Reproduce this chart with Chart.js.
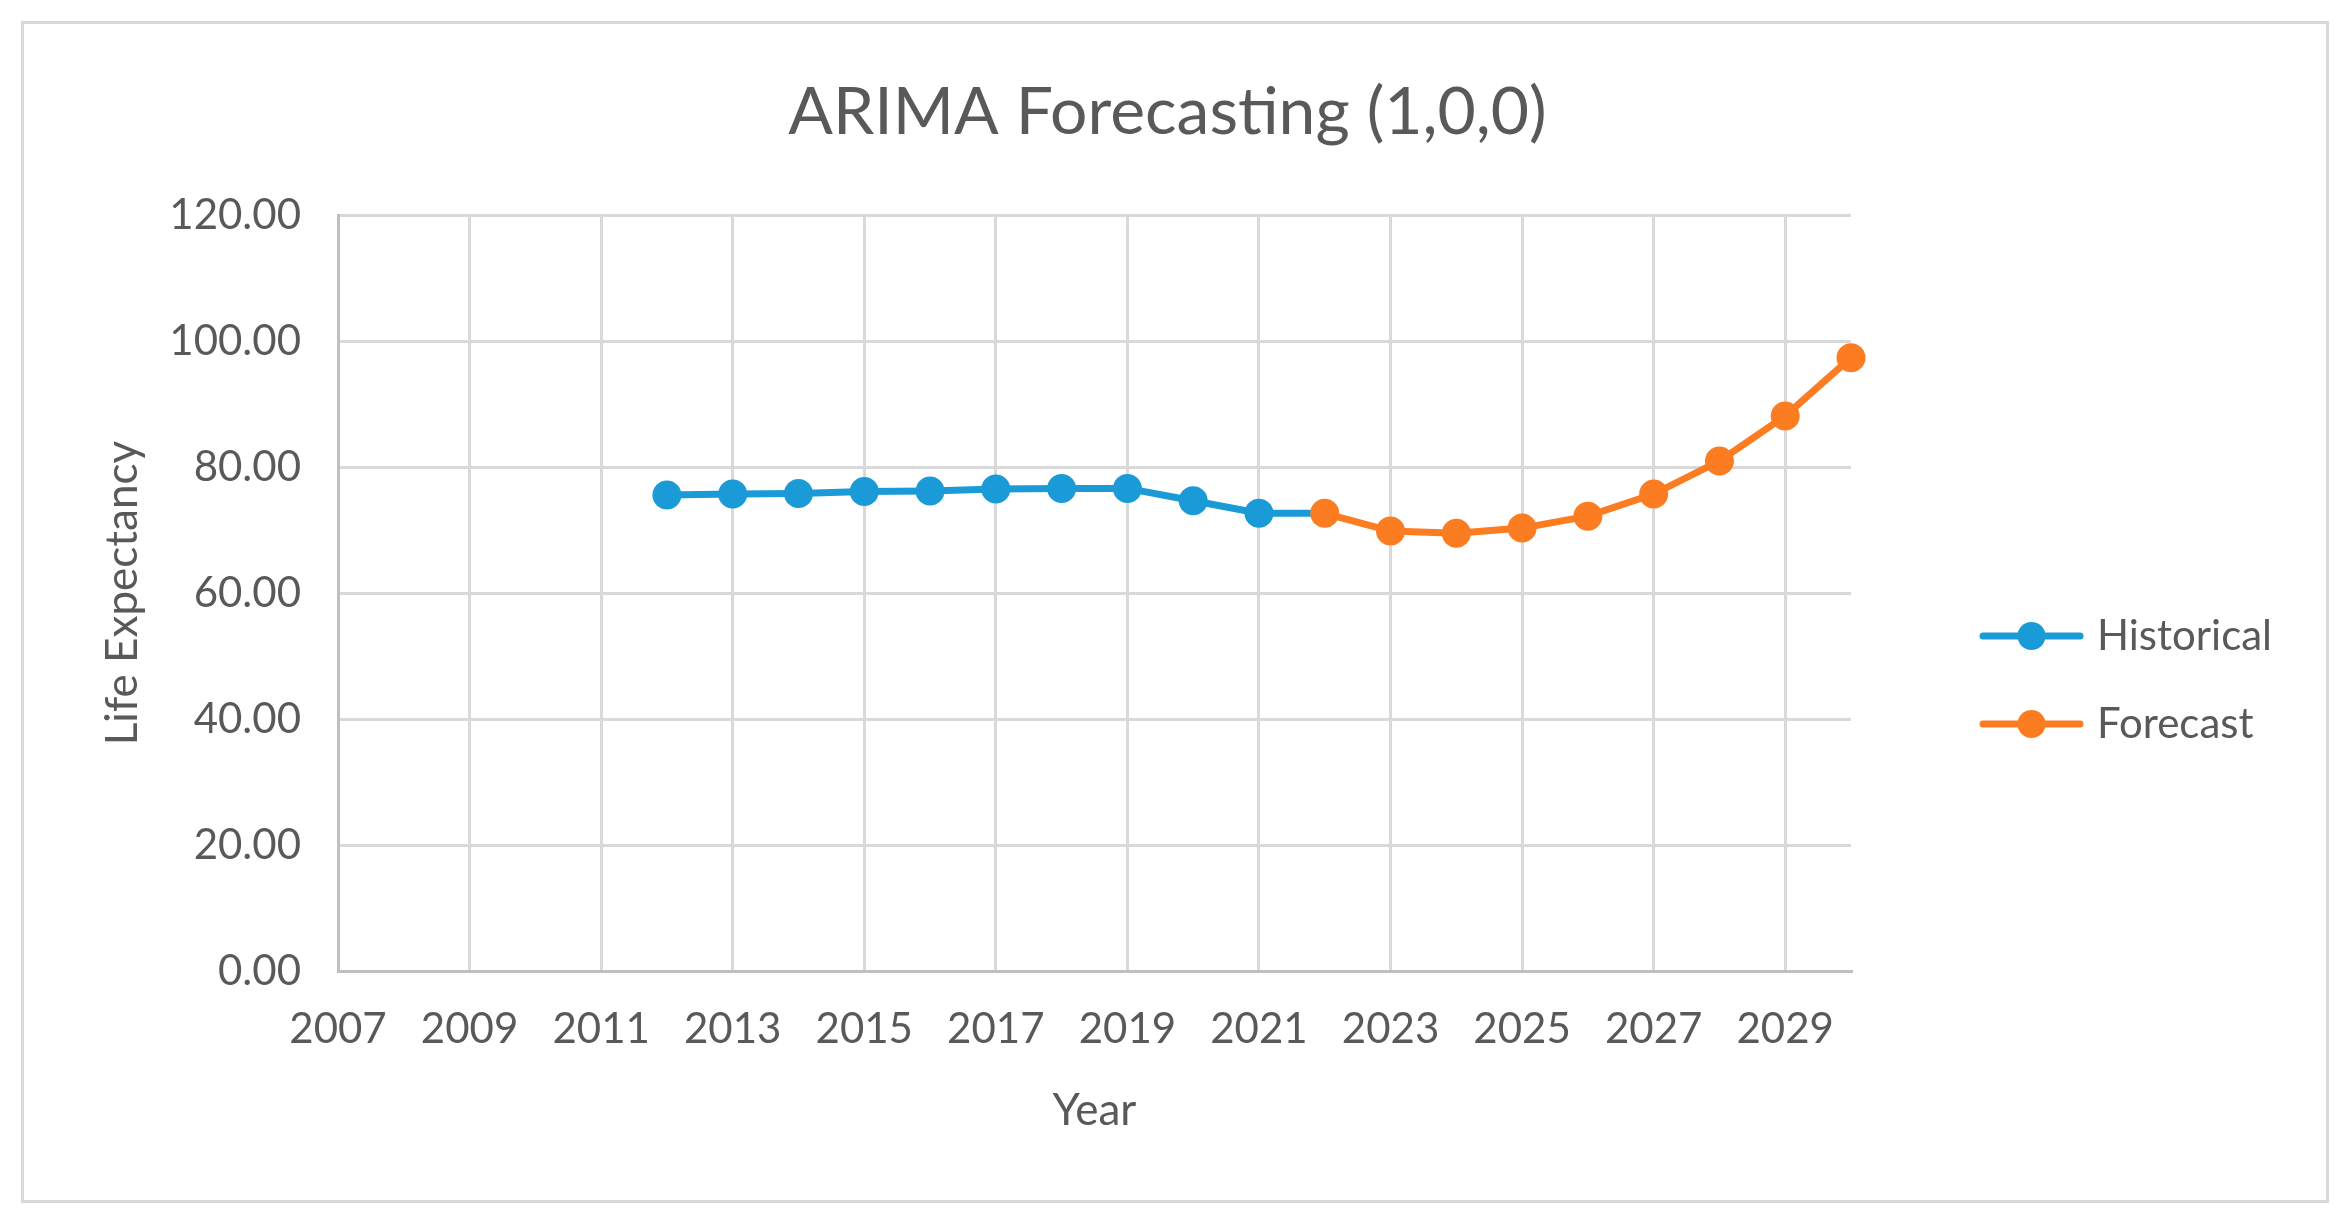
<!DOCTYPE html>
<html>
<head>
<meta charset="utf-8">
<title>ARIMA Forecasting (1,0,0)</title>
<script src="https://cdn.jsdelivr.net/npm/chart.js@4"></script>
<style>
  html, body { margin: 0; padding: 0; background: #fff; }
  #wrap { position: relative; width: 2352px; height: 1227px; }
  #frame {
    position: absolute; left: 21px; top: 21px; width: 2308px; height: 1182px;
    box-sizing: border-box; border: 3px solid #d9d9d9; pointer-events: none;
  }
</style>
</head>
<body>
<div id="wrap">
  <canvas id="chart" width="2352" height="1227"></canvas>
  <div id="frame"></div>
</div>
<script>
// Values
const histYears = [2012, 2013, 2014, 2015, 2016, 2017, 2018, 2019, 2020, 2021, 2022];
const histValues = [75.56, 75.7, 75.8, 76.1, 76.2, 76.5, 76.6, 76.6, 74.65, 72.65, 72.65];
const foreYears = [2022, 2023, 2024, 2025, 2026, 2027, 2028, 2029, 2030];
const foreValues = [72.65, 69.84, 69.5, 70.3, 72.2, 75.7, 80.95, 88.1, 97.35];
const xTicks = [2007, 2009, 2011, 2013, 2015, 2017, 2019, 2021, 2023, 2025, 2027, 2029];
const yTicks = [0, 20, 40, 60, 80, 100, 120];
const seriesNames = ['Historical', 'Forecast'];
const seriesColors = ['#1b9ad8', '#fc7c22'];

const FONT = 'Lato';
const textColor = '#595959';
const legendFont = 42;
const legendPad = 46;
const legendBox = 89;

// legend sample: line with a dot in the middle
function legendSample(color) {
  const c = document.createElement('canvas');
  c.width = 105; c.height = 30;
  const g = c.getContext('2d');
  g.strokeStyle = color; g.lineWidth = 7; g.lineCap = 'round';
  g.beginPath(); g.moveTo(4, 15); g.lineTo(101, 15); g.stroke();
  g.fillStyle = color;
  g.beginPath(); g.arc(52.5, 15, 14, 0, Math.PI * 2); g.fill();
  return c;
}
const samples = seriesColors.map(legendSample);

// work out paddings so the plot and legend land where the reference has them
const m = document.createElement('canvas').getContext('2d');
m.font = legendFont + 'px ' + FONT;
const textW = Math.max(...seriesNames.map(t => m.measureText(t).width));
const legendW = legendPad + legendBox + legendFont / 2 + textW + 10;
const legendLeft = 1941;
const padRight = 2352 - legendLeft - legendW;
const padLeft = padRight - 17;
const plotLeft = 338, plotRight = 1851, plotBottom = 971;

const toPoints = (xs, ys) => xs.map((x, i) => ({ x, y: ys[i] }));

new Chart(document.getElementById('chart'), {
  type: 'line',
  data: {
    datasets: [
      {
        label: seriesNames[0],
        data: toPoints(histYears, histValues),
        borderColor: seriesColors[0],
        backgroundColor: seriesColors[0],
        borderWidth: 7,
        pointRadius: histYears.map((y, i) => i === histYears.length - 1 ? 0 : 14.5),
        pointBorderWidth: 0,
        clip: false,
        order: 2
      },
      {
        label: seriesNames[1],
        data: toPoints(foreYears, foreValues),
        borderColor: seriesColors[1],
        backgroundColor: seriesColors[1],
        borderWidth: 7,
        pointRadius: 14.5,
        pointBorderWidth: 0,
        clip: false,
        order: 1
      }
    ]
  },
  options: {
    responsive: false,
    devicePixelRatio: 1,
    animation: false,
    layout: { padding: { left: padLeft, right: padRight, top: 0, bottom: 0 } },
    plugins: {
      tooltip: { enabled: false },
      title: {
        display: true,
        text: 'ARIMA Forecasting (1,0,0)',
        color: textColor,
        font: { family: FONT, size: 66, weight: 'normal' },
        padding: { top: 73.4, bottom: 62.4 }
      },
      legend: {
        position: 'right',
        title: { display: true, text: '', font: { size: 10 }, padding: { top: 121, bottom: 0 } },
        labels: {
          usePointStyle: true,
          pointStyleWidth: legendBox,
          padding: legendPad,
          color: textColor,
          font: { family: FONT, size: legendFont },
          sort: (a, b) => a.datasetIndex - b.datasetIndex,
          generateLabels: chart => Chart.defaults.plugins.legend.labels.generateLabels(chart)
            .map(l => Object.assign(l, { pointStyle: samples[l.datasetIndex] }))
        }
      }
    },
    scales: {
      x: {
        type: 'linear',
        min: 2007,
        max: 2030,
        afterBuildTicks: s => { s.ticks = xTicks.map(v => ({ value: v })); },
        afterFit: s => { s.height = 1227 - plotBottom; },
        grid: { color: '#d9d9d9', lineWidth: 3, drawTicks: false },
        border: { color: '#bfbfbf', width: 3 },
        ticks: {
          color: textColor,
          font: { family: FONT, size: 42 },
          padding: 33,
          maxRotation: 0,
          autoSkip: false,
          callback: v => String(v)
        },
        title: {
          display: true,
          text: 'Year',
          color: textColor,
          font: { family: FONT, size: 44 },
          padding: { top: 0, bottom: 90 }
        }
      },
      y: {
        min: 0,
        max: 120,
        afterBuildTicks: s => { s.ticks = yTicks.map(v => ({ value: v })); },
        afterFit: s => { s.width = plotLeft - padLeft; },
        grid: { color: '#d9d9d9', lineWidth: 3, drawTicks: false },
        border: { color: '#bfbfbf', width: 3 },
        ticks: {
          color: textColor,
          font: { family: FONT, size: 42 },
          padding: 37,
          callback: v => v.toFixed(2)
        },
        title: {
          display: true,
          text: 'Life Expectancy',
          color: textColor,
          font: { family: FONT, size: 44 },
          padding: { top: 123 - padLeft - 26.4, bottom: 0 }
        }
      },
      // empty right axis, only keeps the gap between plot and legend
      gap: {
        type: 'linear',
        position: 'right',
        display: true,
        afterFit: s => { s.width = legendLeft - plotRight; },
        grid: { display: false },
        border: { display: false },
        ticks: { display: false }
      }
    }
  }
});
</script>
</body>
</html>
